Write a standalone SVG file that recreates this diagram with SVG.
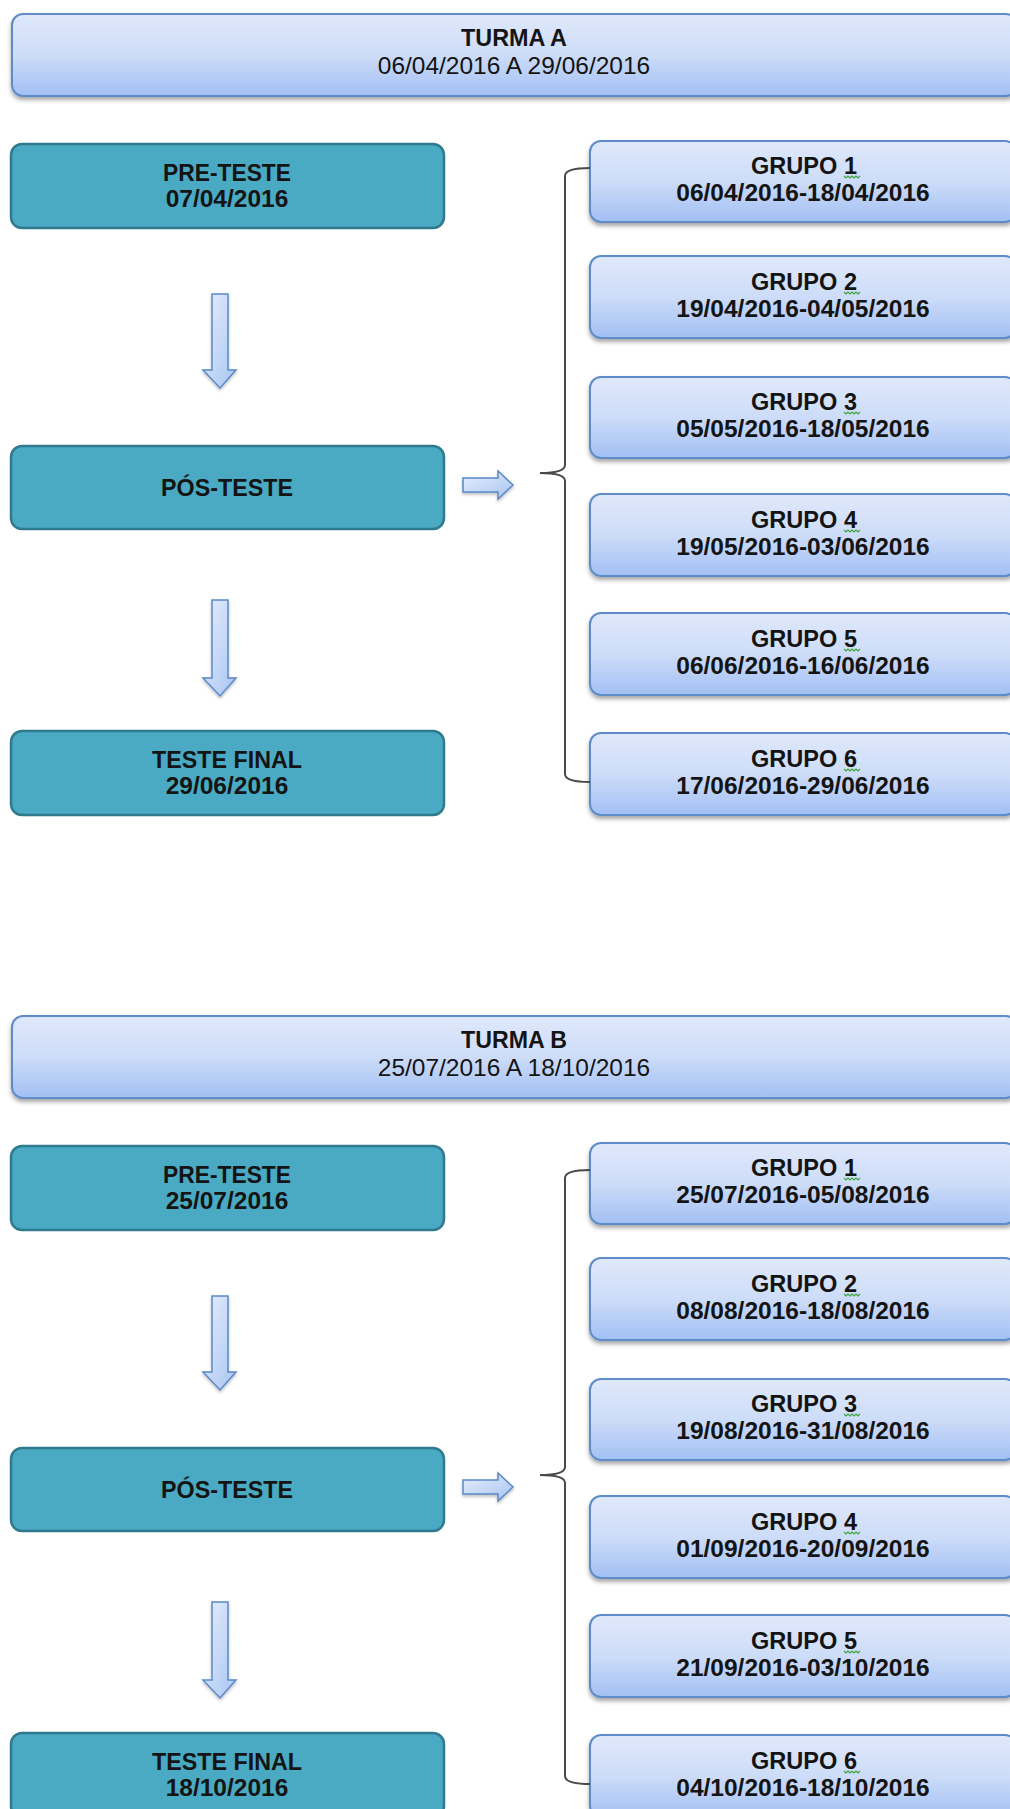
<svg xmlns="http://www.w3.org/2000/svg" width="1010" height="1809" viewBox="0 0 1010 1809">
  <style>
    .t { font-family: "Liberation Sans", Arial, sans-serif; font-size: 24.5px; fill: #141414; text-anchor: middle; }
    .b { font-weight: bold; }
    .header { fill: url(#blueGrad); stroke: #5f8cc9; stroke-width: 2; filter: url(#shadow); }
    .group { fill: url(#blueGrad); stroke: #5f8cc9; stroke-width: 2; filter: url(#shadow); }
    .phase { fill: #4aaac3; stroke: #2f7a8e; stroke-width: 2.5; }
    .arrow { fill: url(#arrowGrad); stroke: #5a88c8; stroke-width: 1.5; filter: url(#softShadow); }
    .brace { fill: none; stroke: #4a4a4a; stroke-width: 2; }
    .squiggle { fill: none; stroke: #3da53d; stroke-width: 1.2; }
  </style>
  <defs>
    <linearGradient id="blueGrad" x1="0" y1="0" x2="0" y2="1">
      <stop offset="0" stop-color="#e0e9fb"/>
      <stop offset="0.5" stop-color="#cddcf8"/>
      <stop offset="1" stop-color="#a2c0f4"/>
    </linearGradient>
    <linearGradient id="arrowGrad" x1="0" y1="0" x2="1" y2="1">
      <stop offset="0" stop-color="#e6eefc"/>
      <stop offset="1" stop-color="#a9c5f2"/>
    </linearGradient>
    <filter id="shadow" x="-5%" y="-20%" width="110%" height="150%">
      <feDropShadow dx="0" dy="3" stdDeviation="2" flood-color="#000" flood-opacity="0.35"/>
    </filter>
    <filter id="softShadow" x="-30%" y="-30%" width="160%" height="160%">
      <feDropShadow dx="0" dy="2" stdDeviation="1.5" flood-color="#000" flood-opacity="0.25"/>
    </filter>
  </defs>
  <rect width="1010" height="1809" fill="#ffffff"/>

  <!-- ===== Turma A ===== -->
  <g id="turmaA">
    <g id="a-header">
      <rect class="header" x="12" y="14" width="1005" height="82" rx="11"/>
      <text class="t b" x="514" y="46" textLength="106" lengthAdjust="spacingAndGlyphs">TURMA A</text>
      <text class="t" x="514" y="74">06/04/2016 A 29/06/2016</text>
    </g>

    <g id="a-pre">
      <rect class="phase" x="11" y="144" width="433" height="84" rx="11"/>
      <text class="t b" x="227" y="181" textLength="128" lengthAdjust="spacingAndGlyphs">PRE-TESTE</text>
      <text class="t b" x="227" y="207">07/04/2016</text>
    </g>
    <g id="a-pos">
      <rect class="phase" x="11" y="446" width="433" height="83" rx="11"/>
      <text class="t b" x="227" y="496" textLength="132" lengthAdjust="spacingAndGlyphs">PÓS-TESTE</text>
    </g>
    <g id="a-final">
      <rect class="phase" x="11" y="731" width="433" height="84" rx="11"/>
      <text class="t b" x="227" y="768" textLength="150" lengthAdjust="spacingAndGlyphs">TESTE FINAL</text>
      <text class="t b" x="227" y="794">29/06/2016</text>
    </g>

    <g id="a-g1">
      <rect class="group" x="590" y="141" width="426" height="81" rx="11"/>
      <text class="t b" x="804" y="174" textLength="106" lengthAdjust="spacingAndGlyphs">GRUPO 1</text>
      <path class="squiggle" d="M844,176 l2,2 l2,-2 l2,2 l2,-2 l2,2 l2,-2 l2,2 l2,-2"/>
      <text class="t b" x="803" y="201">06/04/2016-18/04/2016</text>
    </g>
    <g id="a-g2">
      <rect class="group" x="590" y="256" width="426" height="82" rx="11"/>
      <text class="t b" x="804" y="290" textLength="106" lengthAdjust="spacingAndGlyphs">GRUPO 2</text>
      <path class="squiggle" d="M844,292 l2,2 l2,-2 l2,2 l2,-2 l2,2 l2,-2 l2,2 l2,-2"/>
      <text class="t b" x="803" y="317">19/04/2016-04/05/2016</text>
    </g>
    <g id="a-g3">
      <rect class="group" x="590" y="377" width="426" height="81" rx="11"/>
      <text class="t b" x="804" y="410" textLength="106" lengthAdjust="spacingAndGlyphs">GRUPO 3</text>
      <path class="squiggle" d="M844,412 l2,2 l2,-2 l2,2 l2,-2 l2,2 l2,-2 l2,2 l2,-2"/>
      <text class="t b" x="803" y="437">05/05/2016-18/05/2016</text>
    </g>
    <g id="a-g4">
      <rect class="group" x="590" y="494" width="426" height="82" rx="11"/>
      <text class="t b" x="804" y="528" textLength="106" lengthAdjust="spacingAndGlyphs">GRUPO 4</text>
      <path class="squiggle" d="M844,530 l2,2 l2,-2 l2,2 l2,-2 l2,2 l2,-2 l2,2 l2,-2"/>
      <text class="t b" x="803" y="555">19/05/2016-03/06/2016</text>
    </g>
    <g id="a-g5">
      <rect class="group" x="590" y="613" width="426" height="82" rx="11"/>
      <text class="t b" x="804" y="647" textLength="106" lengthAdjust="spacingAndGlyphs">GRUPO 5</text>
      <path class="squiggle" d="M844,649 l2,2 l2,-2 l2,2 l2,-2 l2,2 l2,-2 l2,2 l2,-2"/>
      <text class="t b" x="803" y="674">06/06/2016-16/06/2016</text>
    </g>
    <g id="a-g6">
      <rect class="group" x="590" y="733" width="426" height="82" rx="11"/>
      <text class="t b" x="804" y="767" textLength="106" lengthAdjust="spacingAndGlyphs">GRUPO 6</text>
      <path class="squiggle" d="M844,769 l2,2 l2,-2 l2,2 l2,-2 l2,2 l2,-2 l2,2 l2,-2"/>
      <text class="t b" x="803" y="794">17/06/2016-29/06/2016</text>
    </g>

    <g id="a-connectors">
      <path class="arrow" d="M212,294 L228,294 L228,370 L236,370 L220,388 L203,370 L212,370 Z"/>
      <path class="arrow" d="M212,600 L228,600 L228,678 L236,678 L220,696 L203,678 L212,678 Z"/>
      <path class="arrow" d="M463,478 L498,478 L498,471 L513,485 L498,499 L498,492 L463,492 Z"/>
      <path class="brace" d="M590,168 Q565,168 565,176 L565,465 Q565,473 540,473 Q565,473 565,481 L565,774 Q565,782 590,782"/>
    </g>
  </g>

  <!-- ===== Turma B ===== -->
  <g id="turmaB" transform="translate(0,1002)">
    <g id="b-header">
      <rect class="header" x="12" y="14" width="1005" height="82" rx="11"/>
      <text class="t b" x="514" y="46" textLength="106" lengthAdjust="spacingAndGlyphs">TURMA B</text>
      <text class="t" x="514" y="74">25/07/2016 A 18/10/2016</text>
    </g>

    <g id="b-pre">
      <rect class="phase" x="11" y="144" width="433" height="84" rx="11"/>
      <text class="t b" x="227" y="181" textLength="128" lengthAdjust="spacingAndGlyphs">PRE-TESTE</text>
      <text class="t b" x="227" y="207">25/07/2016</text>
    </g>
    <g id="b-pos">
      <rect class="phase" x="11" y="446" width="433" height="83" rx="11"/>
      <text class="t b" x="227" y="496" textLength="132" lengthAdjust="spacingAndGlyphs">PÓS-TESTE</text>
    </g>
    <g id="b-final">
      <rect class="phase" x="11" y="731" width="433" height="84" rx="11"/>
      <text class="t b" x="227" y="768" textLength="150" lengthAdjust="spacingAndGlyphs">TESTE FINAL</text>
      <text class="t b" x="227" y="794">18/10/2016</text>
    </g>

    <g id="b-g1">
      <rect class="group" x="590" y="141" width="426" height="81" rx="11"/>
      <text class="t b" x="804" y="174" textLength="106" lengthAdjust="spacingAndGlyphs">GRUPO 1</text>
      <path class="squiggle" d="M844,176 l2,2 l2,-2 l2,2 l2,-2 l2,2 l2,-2 l2,2 l2,-2"/>
      <text class="t b" x="803" y="201">25/07/2016-05/08/2016</text>
    </g>
    <g id="b-g2">
      <rect class="group" x="590" y="256" width="426" height="82" rx="11"/>
      <text class="t b" x="804" y="290" textLength="106" lengthAdjust="spacingAndGlyphs">GRUPO 2</text>
      <path class="squiggle" d="M844,292 l2,2 l2,-2 l2,2 l2,-2 l2,2 l2,-2 l2,2 l2,-2"/>
      <text class="t b" x="803" y="317">08/08/2016-18/08/2016</text>
    </g>
    <g id="b-g3">
      <rect class="group" x="590" y="377" width="426" height="81" rx="11"/>
      <text class="t b" x="804" y="410" textLength="106" lengthAdjust="spacingAndGlyphs">GRUPO 3</text>
      <path class="squiggle" d="M844,412 l2,2 l2,-2 l2,2 l2,-2 l2,2 l2,-2 l2,2 l2,-2"/>
      <text class="t b" x="803" y="437">19/08/2016-31/08/2016</text>
    </g>
    <g id="b-g4">
      <rect class="group" x="590" y="494" width="426" height="82" rx="11"/>
      <text class="t b" x="804" y="528" textLength="106" lengthAdjust="spacingAndGlyphs">GRUPO 4</text>
      <path class="squiggle" d="M844,530 l2,2 l2,-2 l2,2 l2,-2 l2,2 l2,-2 l2,2 l2,-2"/>
      <text class="t b" x="803" y="555">01/09/2016-20/09/2016</text>
    </g>
    <g id="b-g5">
      <rect class="group" x="590" y="613" width="426" height="82" rx="11"/>
      <text class="t b" x="804" y="647" textLength="106" lengthAdjust="spacingAndGlyphs">GRUPO 5</text>
      <path class="squiggle" d="M844,649 l2,2 l2,-2 l2,2 l2,-2 l2,2 l2,-2 l2,2 l2,-2"/>
      <text class="t b" x="803" y="674">21/09/2016-03/10/2016</text>
    </g>
    <g id="b-g6">
      <rect class="group" x="590" y="733" width="426" height="82" rx="11"/>
      <text class="t b" x="804" y="767" textLength="106" lengthAdjust="spacingAndGlyphs">GRUPO 6</text>
      <path class="squiggle" d="M844,769 l2,2 l2,-2 l2,2 l2,-2 l2,2 l2,-2 l2,2 l2,-2"/>
      <text class="t b" x="803" y="794">04/10/2016-18/10/2016</text>
    </g>

    <g id="b-connectors">
      <path class="arrow" d="M212,294 L228,294 L228,370 L236,370 L220,388 L203,370 L212,370 Z"/>
      <path class="arrow" d="M212,600 L228,600 L228,678 L236,678 L220,696 L203,678 L212,678 Z"/>
      <path class="arrow" d="M463,478 L498,478 L498,471 L513,485 L498,499 L498,492 L463,492 Z"/>
      <path class="brace" d="M590,168 Q565,168 565,176 L565,465 Q565,473 540,473 Q565,473 565,481 L565,774 Q565,782 590,782"/>
    </g>
  </g>
</svg>
